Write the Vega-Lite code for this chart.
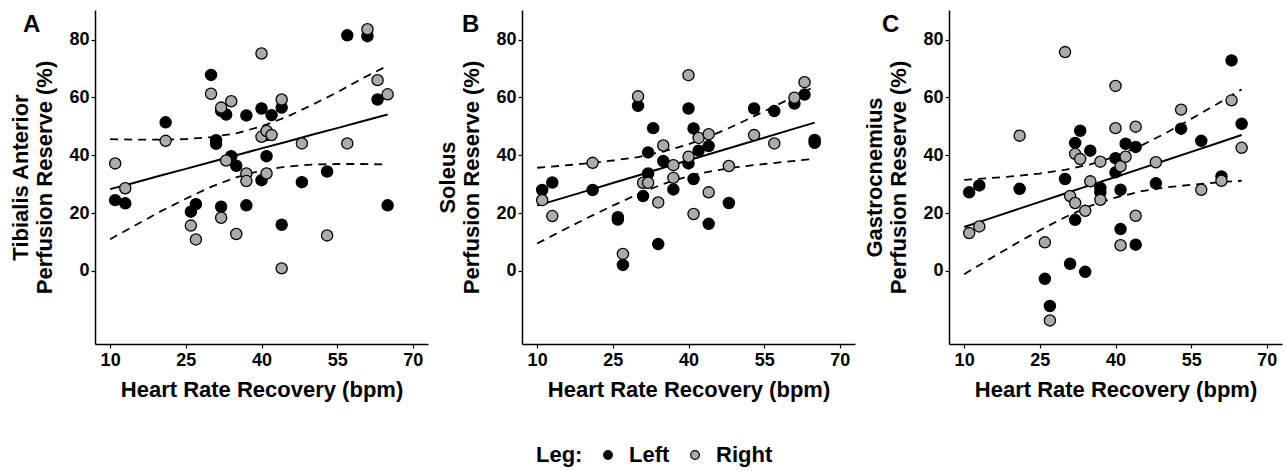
{
  "$schema": "https://vega.github.io/schema/vega-lite/v6.json",
  "background": "white",
  "padding": {"left": 9, "top": 10, "right": 5, "bottom": 5},
  "datasets": {
    "pts": [
      {"m": "TA", "leg": "Left", "hrr": 11, "pr": 24.5}, {"m": "TA", "leg": "Left", "hrr": 13, "pr": 23.4},
      {"m": "TA", "leg": "Left", "hrr": 21, "pr": 51.4}, {"m": "TA", "leg": "Left", "hrr": 26, "pr": 20.5},
      {"m": "TA", "leg": "Left", "hrr": 27, "pr": 23.1}, {"m": "TA", "leg": "Left", "hrr": 30, "pr": 67.8},
      {"m": "TA", "leg": "Left", "hrr": 31, "pr": 45.2}, {"m": "TA", "leg": "Left", "hrr": 31, "pr": 44.0},
      {"m": "TA", "leg": "Left", "hrr": 32, "pr": 55.4}, {"m": "TA", "leg": "Left", "hrr": 32, "pr": 22.2},
      {"m": "TA", "leg": "Left", "hrr": 33, "pr": 54.1}, {"m": "TA", "leg": "Left", "hrr": 34, "pr": 39.7},
      {"m": "TA", "leg": "Left", "hrr": 35, "pr": 36.4}, {"m": "TA", "leg": "Left", "hrr": 37, "pr": 53.8},
      {"m": "TA", "leg": "Left", "hrr": 37, "pr": 22.7}, {"m": "TA", "leg": "Left", "hrr": 40, "pr": 56.2},
      {"m": "TA", "leg": "Left", "hrr": 40, "pr": 31.4}, {"m": "TA", "leg": "Left", "hrr": 41, "pr": 47.0},
      {"m": "TA", "leg": "Left", "hrr": 41, "pr": 39.7}, {"m": "TA", "leg": "Left", "hrr": 42, "pr": 53.9},
      {"m": "TA", "leg": "Left", "hrr": 44, "pr": 56.5}, {"m": "TA", "leg": "Left", "hrr": 44, "pr": 16.0},
      {"m": "TA", "leg": "Left", "hrr": 48, "pr": 30.7}, {"m": "TA", "leg": "Left", "hrr": 53, "pr": 34.4},
      {"m": "TA", "leg": "Left", "hrr": 57, "pr": 81.5}, {"m": "TA", "leg": "Left", "hrr": 61, "pr": 81.2},
      {"m": "TA", "leg": "Left", "hrr": 63, "pr": 59.3}, {"m": "TA", "leg": "Left", "hrr": 65, "pr": 22.7},
      {"m": "TA", "leg": "Right", "hrr": 11, "pr": 37.2}, {"m": "TA", "leg": "Right", "hrr": 13, "pr": 28.6},
      {"m": "TA", "leg": "Right", "hrr": 21, "pr": 45.0}, {"m": "TA", "leg": "Right", "hrr": 26, "pr": 15.7},
      {"m": "TA", "leg": "Right", "hrr": 27, "pr": 10.9}, {"m": "TA", "leg": "Right", "hrr": 30, "pr": 61.3},
      {"m": "TA", "leg": "Right", "hrr": 32, "pr": 56.5}, {"m": "TA", "leg": "Right", "hrr": 32, "pr": 18.4},
      {"m": "TA", "leg": "Right", "hrr": 33, "pr": 38.2}, {"m": "TA", "leg": "Right", "hrr": 34, "pr": 58.7},
      {"m": "TA", "leg": "Right", "hrr": 35, "pr": 12.8}, {"m": "TA", "leg": "Right", "hrr": 37, "pr": 33.7},
      {"m": "TA", "leg": "Right", "hrr": 37, "pr": 31.1}, {"m": "TA", "leg": "Right", "hrr": 40, "pr": 75.2},
      {"m": "TA", "leg": "Right", "hrr": 40, "pr": 46.4}, {"m": "TA", "leg": "Right", "hrr": 41, "pr": 48.4},
      {"m": "TA", "leg": "Right", "hrr": 41, "pr": 33.7}, {"m": "TA", "leg": "Right", "hrr": 42, "pr": 47.0},
      {"m": "TA", "leg": "Right", "hrr": 44, "pr": 59.3}, {"m": "TA", "leg": "Right", "hrr": 44, "pr": 0.9},
      {"m": "TA", "leg": "Right", "hrr": 48, "pr": 44.1}, {"m": "TA", "leg": "Right", "hrr": 53, "pr": 12.3},
      {"m": "TA", "leg": "Right", "hrr": 57, "pr": 44.1}, {"m": "TA", "leg": "Right", "hrr": 61, "pr": 83.6},
      {"m": "TA", "leg": "Right", "hrr": 63, "pr": 66.0}, {"m": "TA", "leg": "Right", "hrr": 65, "pr": 61.1},

      {"m": "SOL", "leg": "Left", "hrr": 11, "pr": 28.0}, {"m": "SOL", "leg": "Left", "hrr": 13, "pr": 30.6},
      {"m": "SOL", "leg": "Left", "hrr": 21, "pr": 28.0}, {"m": "SOL", "leg": "Left", "hrr": 26, "pr": 18.6},
      {"m": "SOL", "leg": "Left", "hrr": 26, "pr": 17.8}, {"m": "SOL", "leg": "Left", "hrr": 27, "pr": 2.1},
      {"m": "SOL", "leg": "Left", "hrr": 30, "pr": 57.1}, {"m": "SOL", "leg": "Left", "hrr": 31, "pr": 25.9},
      {"m": "SOL", "leg": "Left", "hrr": 32, "pr": 41.0}, {"m": "SOL", "leg": "Left", "hrr": 32, "pr": 33.7},
      {"m": "SOL", "leg": "Left", "hrr": 33, "pr": 49.4}, {"m": "SOL", "leg": "Left", "hrr": 34, "pr": 9.3},
      {"m": "SOL", "leg": "Left", "hrr": 35, "pr": 38.0}, {"m": "SOL", "leg": "Left", "hrr": 37, "pr": 28.2},
      {"m": "SOL", "leg": "Left", "hrr": 40, "pr": 56.2}, {"m": "SOL", "leg": "Left", "hrr": 40, "pr": 37.2},
      {"m": "SOL", "leg": "Left", "hrr": 41, "pr": 49.3}, {"m": "SOL", "leg": "Left", "hrr": 41, "pr": 31.8},
      {"m": "SOL", "leg": "Left", "hrr": 42, "pr": 41.6}, {"m": "SOL", "leg": "Left", "hrr": 44, "pr": 43.2},
      {"m": "SOL", "leg": "Left", "hrr": 44, "pr": 16.3}, {"m": "SOL", "leg": "Left", "hrr": 48, "pr": 23.5},
      {"m": "SOL", "leg": "Left", "hrr": 53, "pr": 56.2}, {"m": "SOL", "leg": "Left", "hrr": 57, "pr": 55.3},
      {"m": "SOL", "leg": "Left", "hrr": 61, "pr": 57.9}, {"m": "SOL", "leg": "Left", "hrr": 63, "pr": 61.0},
      {"m": "SOL", "leg": "Left", "hrr": 65, "pr": 45.3}, {"m": "SOL", "leg": "Left", "hrr": 65, "pr": 44.3},
      {"m": "SOL", "leg": "Right", "hrr": 11, "pr": 24.5}, {"m": "SOL", "leg": "Right", "hrr": 13, "pr": 19.0},
      {"m": "SOL", "leg": "Right", "hrr": 21, "pr": 37.4}, {"m": "SOL", "leg": "Right", "hrr": 27, "pr": 5.9},
      {"m": "SOL", "leg": "Right", "hrr": 30, "pr": 60.4}, {"m": "SOL", "leg": "Right", "hrr": 31, "pr": 30.5},
      {"m": "SOL", "leg": "Right", "hrr": 32, "pr": 30.5}, {"m": "SOL", "leg": "Right", "hrr": 34, "pr": 23.7},
      {"m": "SOL", "leg": "Right", "hrr": 35, "pr": 43.4}, {"m": "SOL", "leg": "Right", "hrr": 37, "pr": 36.6},
      {"m": "SOL", "leg": "Right", "hrr": 37, "pr": 32.2}, {"m": "SOL", "leg": "Right", "hrr": 40, "pr": 67.7},
      {"m": "SOL", "leg": "Right", "hrr": 40, "pr": 39.5}, {"m": "SOL", "leg": "Right", "hrr": 41, "pr": 19.7},
      {"m": "SOL", "leg": "Right", "hrr": 42, "pr": 46.0}, {"m": "SOL", "leg": "Right", "hrr": 44, "pr": 47.3},
      {"m": "SOL", "leg": "Right", "hrr": 44, "pr": 27.2}, {"m": "SOL", "leg": "Right", "hrr": 48, "pr": 36.3},
      {"m": "SOL", "leg": "Right", "hrr": 53, "pr": 47.0}, {"m": "SOL", "leg": "Right", "hrr": 57, "pr": 44.1},
      {"m": "SOL", "leg": "Right", "hrr": 61, "pr": 59.9}, {"m": "SOL", "leg": "Right", "hrr": 63, "pr": 65.3},

      {"m": "GAS", "leg": "Left", "hrr": 11, "pr": 27.2}, {"m": "GAS", "leg": "Left", "hrr": 13, "pr": 29.6},
      {"m": "GAS", "leg": "Left", "hrr": 21, "pr": 28.4}, {"m": "GAS", "leg": "Left", "hrr": 26, "pr": -2.7},
      {"m": "GAS", "leg": "Left", "hrr": 27, "pr": -12.1}, {"m": "GAS", "leg": "Left", "hrr": 30, "pr": 31.8},
      {"m": "GAS", "leg": "Left", "hrr": 31, "pr": 2.5}, {"m": "GAS", "leg": "Left", "hrr": 32, "pr": 44.3},
      {"m": "GAS", "leg": "Left", "hrr": 32, "pr": 17.7}, {"m": "GAS", "leg": "Left", "hrr": 33, "pr": 48.5},
      {"m": "GAS", "leg": "Left", "hrr": 34, "pr": -0.3}, {"m": "GAS", "leg": "Left", "hrr": 35, "pr": 41.6},
      {"m": "GAS", "leg": "Left", "hrr": 37, "pr": 28.7}, {"m": "GAS", "leg": "Left", "hrr": 37, "pr": 27.2},
      {"m": "GAS", "leg": "Left", "hrr": 40, "pr": 39.0}, {"m": "GAS", "leg": "Left", "hrr": 40, "pr": 34.1},
      {"m": "GAS", "leg": "Left", "hrr": 41, "pr": 28.1}, {"m": "GAS", "leg": "Left", "hrr": 41, "pr": 14.5},
      {"m": "GAS", "leg": "Left", "hrr": 42, "pr": 44.0}, {"m": "GAS", "leg": "Left", "hrr": 44, "pr": 42.9},
      {"m": "GAS", "leg": "Left", "hrr": 44, "pr": 9.1}, {"m": "GAS", "leg": "Left", "hrr": 48, "pr": 30.3},
      {"m": "GAS", "leg": "Left", "hrr": 53, "pr": 49.2}, {"m": "GAS", "leg": "Left", "hrr": 57, "pr": 45.0},
      {"m": "GAS", "leg": "Left", "hrr": 61, "pr": 32.7}, {"m": "GAS", "leg": "Left", "hrr": 63, "pr": 72.8},
      {"m": "GAS", "leg": "Left", "hrr": 65, "pr": 50.9},
      {"m": "GAS", "leg": "Right", "hrr": 11, "pr": 13.1}, {"m": "GAS", "leg": "Right", "hrr": 13, "pr": 15.4},
      {"m": "GAS", "leg": "Right", "hrr": 21, "pr": 46.8}, {"m": "GAS", "leg": "Right", "hrr": 26, "pr": 9.9},
      {"m": "GAS", "leg": "Right", "hrr": 27, "pr": -17.1}, {"m": "GAS", "leg": "Right", "hrr": 30, "pr": 75.7},
      {"m": "GAS", "leg": "Right", "hrr": 31, "pr": 25.9}, {"m": "GAS", "leg": "Right", "hrr": 32, "pr": 40.5},
      {"m": "GAS", "leg": "Right", "hrr": 32, "pr": 23.5}, {"m": "GAS", "leg": "Right", "hrr": 33, "pr": 38.7},
      {"m": "GAS", "leg": "Right", "hrr": 34, "pr": 20.8}, {"m": "GAS", "leg": "Right", "hrr": 35, "pr": 31.0},
      {"m": "GAS", "leg": "Right", "hrr": 37, "pr": 37.8}, {"m": "GAS", "leg": "Right", "hrr": 37, "pr": 24.6},
      {"m": "GAS", "leg": "Right", "hrr": 40, "pr": 64.0}, {"m": "GAS", "leg": "Right", "hrr": 40, "pr": 49.4},
      {"m": "GAS", "leg": "Right", "hrr": 41, "pr": 36.2}, {"m": "GAS", "leg": "Right", "hrr": 41, "pr": 8.9},
      {"m": "GAS", "leg": "Right", "hrr": 42, "pr": 39.5}, {"m": "GAS", "leg": "Right", "hrr": 44, "pr": 49.9},
      {"m": "GAS", "leg": "Right", "hrr": 44, "pr": 19.1}, {"m": "GAS", "leg": "Right", "hrr": 48, "pr": 37.6},
      {"m": "GAS", "leg": "Right", "hrr": 53, "pr": 55.8}, {"m": "GAS", "leg": "Right", "hrr": 57, "pr": 28.1},
      {"m": "GAS", "leg": "Right", "hrr": 61, "pr": 31.2}, {"m": "GAS", "leg": "Right", "hrr": 63, "pr": 59.0},
      {"m": "GAS", "leg": "Right", "hrr": 65, "pr": 42.6}
    ],
    "fit": [
      {"m": "TA", "hrr": 10, "lo": 11.0, "fit": 28.3, "hi": 45.6}, {"m": "TA", "hrr": 15, "lo": 15.8, "fit": 30.6, "hi": 45.4},
      {"m": "TA", "hrr": 20, "lo": 20.6, "fit": 33.0, "hi": 45.4}, {"m": "TA", "hrr": 25, "lo": 25.0, "fit": 35.3, "hi": 45.6},
      {"m": "TA", "hrr": 30, "lo": 29.1, "fit": 37.7, "hi": 46.3}, {"m": "TA", "hrr": 35, "lo": 32.4, "fit": 40.0, "hi": 47.6},
      {"m": "TA", "hrr": 40, "lo": 34.8, "fit": 42.4, "hi": 50.0}, {"m": "TA", "hrr": 45, "lo": 36.1, "fit": 44.7, "hi": 53.3},
      {"m": "TA", "hrr": 50, "lo": 36.8, "fit": 47.1, "hi": 57.4}, {"m": "TA", "hrr": 55, "lo": 37.0, "fit": 49.4, "hi": 61.8},
      {"m": "TA", "hrr": 60, "lo": 37.0, "fit": 51.8, "hi": 66.6}, {"m": "TA", "hrr": 65, "lo": 36.8, "fit": 54.1, "hi": 71.0},
      {"m": "SOL", "hrr": 10, "lo": 9.5, "fit": 22.6, "hi": 35.7}, {"m": "SOL", "hrr": 15, "lo": 14.0, "fit": 25.2, "hi": 36.4},
      {"m": "SOL", "hrr": 20, "lo": 18.4, "fit": 27.8, "hi": 37.2}, {"m": "SOL", "hrr": 25, "lo": 22.6, "fit": 30.4, "hi": 38.2},
      {"m": "SOL", "hrr": 30, "lo": 26.6, "fit": 33.0, "hi": 39.4}, {"m": "SOL", "hrr": 35, "lo": 30.1, "fit": 35.7, "hi": 41.3},
      {"m": "SOL", "hrr": 40, "lo": 32.8, "fit": 38.3, "hi": 43.8}, {"m": "SOL", "hrr": 45, "lo": 34.7, "fit": 40.9, "hi": 47.1},
      {"m": "SOL", "hrr": 50, "lo": 36.0, "fit": 43.5, "hi": 51.0}, {"m": "SOL", "hrr": 55, "lo": 37.0, "fit": 46.1, "hi": 55.2},
      {"m": "SOL", "hrr": 60, "lo": 37.9, "fit": 48.7, "hi": 59.5}, {"m": "SOL", "hrr": 65, "lo": 38.8, "fit": 51.3, "hi": 63.8},
      {"m": "GAS", "hrr": 10, "lo": -1.1, "fit": 15.2, "hi": 31.5}, {"m": "GAS", "hrr": 15, "lo": 4.1, "fit": 18.1, "hi": 32.1},
      {"m": "GAS", "hrr": 20, "lo": 9.2, "fit": 21.0, "hi": 32.8}, {"m": "GAS", "hrr": 25, "lo": 14.1, "fit": 23.9, "hi": 33.7},
      {"m": "GAS", "hrr": 30, "lo": 18.6, "fit": 26.8, "hi": 35.0}, {"m": "GAS", "hrr": 35, "lo": 22.5, "fit": 29.7, "hi": 36.9},
      {"m": "GAS", "hrr": 40, "lo": 25.4, "fit": 32.5, "hi": 39.6}, {"m": "GAS", "hrr": 45, "lo": 27.5, "fit": 35.4, "hi": 43.3},
      {"m": "GAS", "hrr": 50, "lo": 28.9, "fit": 38.3, "hi": 47.7}, {"m": "GAS", "hrr": 55, "lo": 29.8, "fit": 41.2, "hi": 52.6},
      {"m": "GAS", "hrr": 60, "lo": 30.6, "fit": 44.1, "hi": 57.6}, {"m": "GAS", "hrr": 65, "lo": 31.2, "fit": 47.0, "hi": 62.8}
    ]
  },
  "config": {
    "font": "Liberation Sans",
    "view": {"stroke": null},
    "axis": {
      "grid": false, "domainColor": "black", "domainWidth": 1.5, "tickColor": "black", "tickWidth": 1.2, "tickSize": 4,
      "labelFont": "Liberation Sans", "labelFontWeight": "bold", "labelFontSize": 18, "labelColor": "black", "labelPadding": 2,
      "titleFont": "Liberation Sans", "titleFontWeight": "bold", "titleFontSize": 22, "titleColor": "black"
    },
    "axisX": {"titlePadding": 10, "labelPadding": 3},
    "axisY": {"titlePadding": 12},
    "title": {"font": "Liberation Sans", "fontSize": 24, "fontWeight": "bold", "color": "black", "anchor": "start", "frame": "group", "offset": 0, "baseline": "alphabetic"},
    "legend": {
      "titleFont": "Liberation Sans", "titleFontSize": 22, "titleFontWeight": "bold", "titleColor": "black",
      "labelFont": "Liberation Sans", "labelFontSize": 22, "labelFontWeight": "bold", "labelColor": "black"
    }
  },
  "bounds": "flush",
  "spacing": 94,
  "hconcat": [
    {
      "width": 333, "height": 334,
      "title": {"text": "A", "dx": -72, "dy": 31},
      "layer": [
        {"data": {"name": "fit"}, "transform": [{"filter": "datum.m === 'TA'"}], "mark": {"type": "line", "color": "black", "strokeWidth": 1.8, "strokeDash": [8, 6]},
         "encoding": {"x": {"field": "hrr", "type": "quantitative"}, "y": {"field": "hi", "type": "quantitative"}}},
        {"data": {"name": "fit"}, "transform": [{"filter": "datum.m === 'TA'"}], "mark": {"type": "line", "color": "black", "strokeWidth": 1.8, "strokeDash": [8, 6]},
         "encoding": {"x": {"field": "hrr", "type": "quantitative"}, "y": {"field": "lo", "type": "quantitative"}}},
        {"data": {"name": "fit"}, "transform": [{"filter": "datum.m === 'TA'"}], "mark": {"type": "line", "color": "black", "strokeWidth": 2},
         "encoding": {"x": {"field": "hrr", "type": "quantitative"}, "y": {"field": "fit", "type": "quantitative"}}},
        {"data": {"name": "pts"}, "transform": [{"filter": "datum.m === 'TA'"}],
         "mark": {"type": "point", "shape": "circle", "filled": true, "size": 125, "stroke": "black", "strokeWidth": 1.3, "opacity": 1},
         "encoding": {
           "x": {"field": "hrr", "type": "quantitative", "scale": {"domain": [7, 73], "nice": false, "zero": false}, "axis": {"values": [10, 25, 40, 55, 70], "title": "Heart Rate Recovery (bpm)"}},
           "y": {"field": "pr", "type": "quantitative", "scale": {"domain": [-25.25, 90.25], "nice": false, "zero": false}, "axis": {"values": [0, 20, 40, 60, 80], "title": ["Tibialis Anterior", "Perfusion Reserve (%)"]}},
           "fill": {"field": "leg", "type": "nominal", "scale": {"domain": ["Left", "Right"], "range": ["#000000", "#ABABAB"]},
             "legend": {"title": "Leg:", "orient": "none", "legendX": 441, "legendY": 434, "direction": "horizontal", "titleOrient": "left", "titlePadding": 14, "symbolSize": 75, "symbolStrokeWidth": 1.2, "labelOffset": 10, "columnPadding": 14}}
         }}
      ]
    },
    {
      "width": 333, "height": 334,
      "title": {"text": "B", "dx": -60, "dy": 31},
      "layer": [
        {"data": {"name": "fit"}, "transform": [{"filter": "datum.m === 'SOL'"}], "mark": {"type": "line", "color": "black", "strokeWidth": 1.8, "strokeDash": [8, 6]},
         "encoding": {"x": {"field": "hrr", "type": "quantitative"}, "y": {"field": "hi", "type": "quantitative"}}},
        {"data": {"name": "fit"}, "transform": [{"filter": "datum.m === 'SOL'"}], "mark": {"type": "line", "color": "black", "strokeWidth": 1.8, "strokeDash": [8, 6]},
         "encoding": {"x": {"field": "hrr", "type": "quantitative"}, "y": {"field": "lo", "type": "quantitative"}}},
        {"data": {"name": "fit"}, "transform": [{"filter": "datum.m === 'SOL'"}], "mark": {"type": "line", "color": "black", "strokeWidth": 2},
         "encoding": {"x": {"field": "hrr", "type": "quantitative"}, "y": {"field": "fit", "type": "quantitative"}}},
        {"data": {"name": "pts"}, "transform": [{"filter": "datum.m === 'SOL'"}],
         "mark": {"type": "point", "shape": "circle", "filled": true, "size": 125, "stroke": "black", "strokeWidth": 1.3, "opacity": 1},
         "encoding": {
           "x": {"field": "hrr", "type": "quantitative", "scale": {"domain": [7, 73], "nice": false, "zero": false}, "axis": {"values": [10, 25, 40, 55, 70], "title": "Heart Rate Recovery (bpm)"}},
           "y": {"field": "pr", "type": "quantitative", "scale": {"domain": [-25.25, 90.25], "nice": false, "zero": false}, "axis": {"values": [0, 20, 40, 60, 80], "title": ["Soleus", "Perfusion Reserve (%)"]}},
           "fill": {"field": "leg", "type": "nominal", "scale": {"domain": ["Left", "Right"], "range": ["#000000", "#ABABAB"]}}
         }}
      ]
    },
    {
      "width": 333, "height": 334,
      "title": {"text": "C", "dx": -67, "dy": 31},
      "layer": [
        {"data": {"name": "fit"}, "transform": [{"filter": "datum.m === 'GAS'"}], "mark": {"type": "line", "color": "black", "strokeWidth": 1.8, "strokeDash": [8, 6]},
         "encoding": {"x": {"field": "hrr", "type": "quantitative"}, "y": {"field": "hi", "type": "quantitative"}}},
        {"data": {"name": "fit"}, "transform": [{"filter": "datum.m === 'GAS'"}], "mark": {"type": "line", "color": "black", "strokeWidth": 1.8, "strokeDash": [8, 6]},
         "encoding": {"x": {"field": "hrr", "type": "quantitative"}, "y": {"field": "lo", "type": "quantitative"}}},
        {"data": {"name": "fit"}, "transform": [{"filter": "datum.m === 'GAS'"}], "mark": {"type": "line", "color": "black", "strokeWidth": 2},
         "encoding": {"x": {"field": "hrr", "type": "quantitative"}, "y": {"field": "fit", "type": "quantitative"}}},
        {"data": {"name": "pts"}, "transform": [{"filter": "datum.m === 'GAS'"}],
         "mark": {"type": "point", "shape": "circle", "filled": true, "size": 125, "stroke": "black", "strokeWidth": 1.3, "opacity": 1},
         "encoding": {
           "x": {"field": "hrr", "type": "quantitative", "scale": {"domain": [7, 73], "nice": false, "zero": false}, "axis": {"values": [10, 25, 40, 55, 70], "title": "Heart Rate Recovery (bpm)"}},
           "y": {"field": "pr", "type": "quantitative", "scale": {"domain": [-25.25, 90.25], "nice": false, "zero": false}, "axis": {"values": [0, 20, 40, 60, 80], "title": ["Gastrocnemius", "Perfusion Reserve (%)"]}},
           "fill": {"field": "leg", "type": "nominal", "scale": {"domain": ["Left", "Right"], "range": ["#000000", "#ABABAB"]}}
         }}
      ]
    }
  ]
}
